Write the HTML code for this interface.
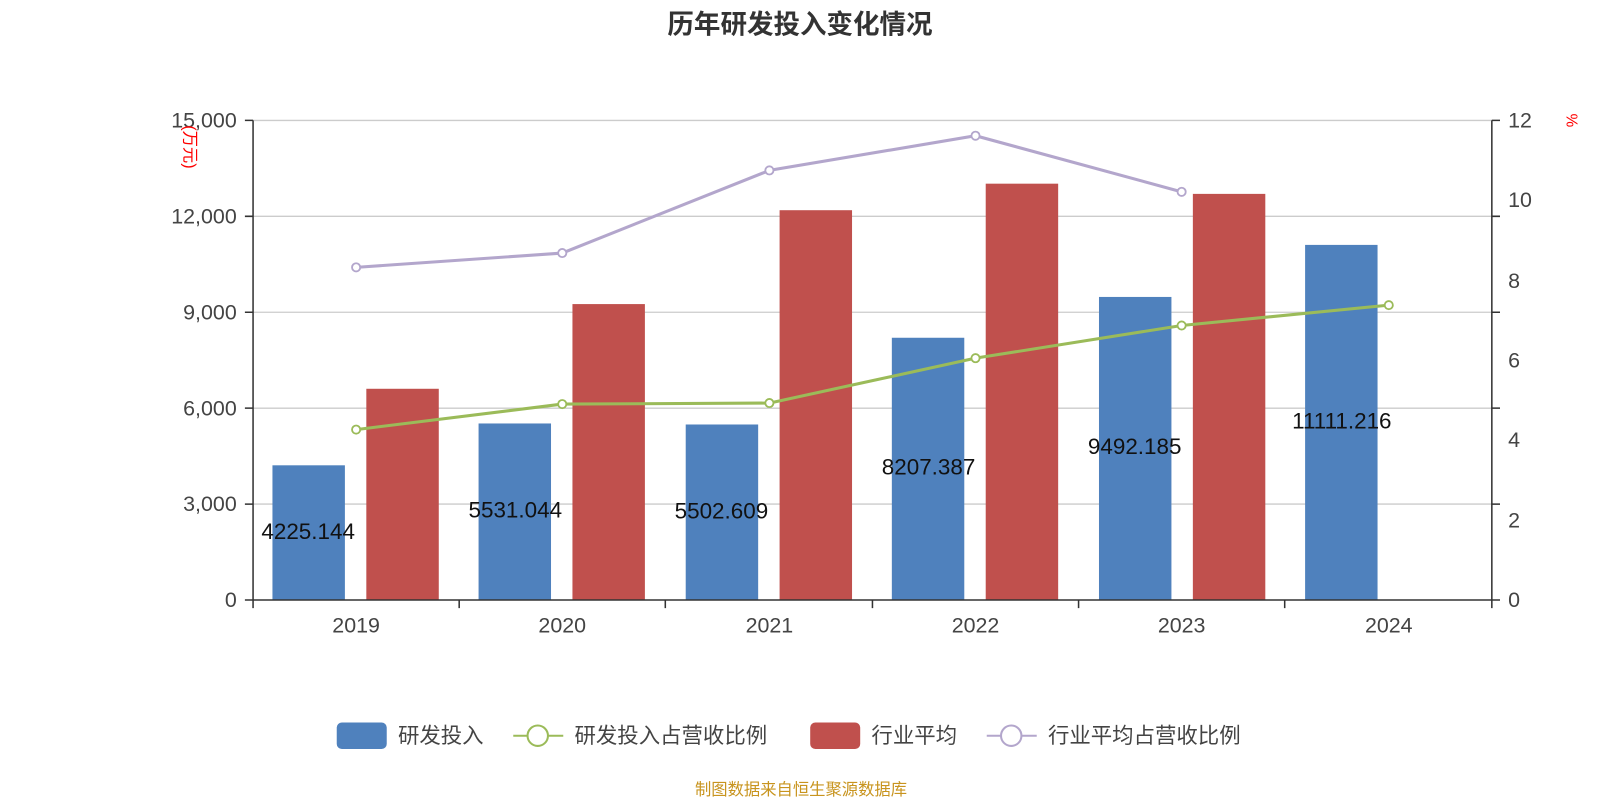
<!DOCTYPE html>
<html><head><meta charset="utf-8"><style>
body{margin:0;background:#fff}
svg{display:block}
svg text{font-family:"Liberation Sans","Noto Sans CJK SC",sans-serif}
</style></head><body>
<svg width="1600" height="800" viewBox="0 0 1568 784" xmlns="http://www.w3.org/2000/svg">
<text x="784" y="33" text-anchor="middle" font-size="26" font-weight="bold" fill="#333">历年研发投入变化情况</text>
<g stroke="#ccc" stroke-width="1.3">
<line x1="248" y1="118" x2="1462" y2="118"/>
<line x1="248" y1="212" x2="1462" y2="212"/>
<line x1="248" y1="306" x2="1462" y2="306"/>
<line x1="248" y1="400" x2="1462" y2="400"/>
<line x1="248" y1="494" x2="1462" y2="494"/>
</g>
<g fill="#4f81bd">
<rect x="267" y="456" width="71" height="132"/>
<rect x="469" y="415" width="71" height="173"/>
<rect x="672" y="416" width="71" height="172"/>
<rect x="874" y="331" width="71" height="257"/>
<rect x="1077" y="291" width="71" height="297"/>
<rect x="1279" y="240" width="71" height="348"/>
</g>
<g fill="#c0504d">
<rect x="359" y="381" width="71" height="207"/>
<rect x="561" y="298" width="71" height="290"/>
<rect x="764" y="206" width="71" height="382"/>
<rect x="966" y="180" width="71" height="408"/>
<rect x="1169" y="190" width="71" height="398"/>
</g>
<g stroke="#333" stroke-width="1.5" fill="none">
<line x1="248" y1="118" x2="248" y2="588"/>
<line x1="1462" y1="118" x2="1462" y2="588"/>
<line x1="248" y1="588" x2="1462" y2="588"/>
<path d="M240 118H248M240 212H248M240 306H248M240 400H248M240 494H248M240 588H248"/>
<path d="M1462 118H1470M1462 212H1470M1462 306H1470M1462 400H1470M1462 494H1470M1462 588H1470"/>
<path d="M248 588V596M450 588V596M652 588V596M855 588V596M1057 588V596M1259 588V596M1462 588V596"/>
</g>
<g font-size="21" fill="#444" text-anchor="end">
<text x="232" y="125">15,000</text><text x="232" y="219">12,000</text><text x="232" y="313">9,000</text>
<text x="232" y="407">6,000</text><text x="232" y="501">3,000</text><text x="232" y="595">0</text>
</g>
<g font-size="21" fill="#444" text-anchor="start">
<text x="1478" y="125">12</text><text x="1478" y="203">10</text><text x="1478" y="282">8</text>
<text x="1478" y="360">6</text><text x="1478" y="438">4</text><text x="1478" y="517">2</text><text x="1478" y="595">0</text>
</g>
<g font-size="21" fill="#444" text-anchor="middle">
<text x="349" y="620">2019</text><text x="551" y="620">2020</text><text x="754" y="620">2021</text>
<text x="956" y="620">2022</text><text x="1158" y="620">2023</text><text x="1361" y="620">2024</text>
</g>
<text transform="translate(181,144) rotate(90)" font-size="16" fill="red" text-anchor="middle">(万元)</text>
<text transform="translate(1535,118) rotate(90)" font-size="15" fill="red" text-anchor="middle">%</text>
<polyline points="349,262 551,248 754,167 956,133 1158,188" fill="none" stroke="#b3a6cc" stroke-width="3"/>
<g fill="#fff" stroke="#b3a6cc" stroke-width="1.8">
<circle cx="349" cy="262" r="4"/><circle cx="551" cy="248" r="4"/><circle cx="754" cy="167" r="4"/><circle cx="956" cy="133" r="4"/><circle cx="1158" cy="188" r="4"/>
</g>
<polyline points="349,421 551,396 754,395 956,351 1158,319 1361,299" fill="none" stroke="#9bbb59" stroke-width="3"/>
<g fill="#fff" stroke="#9bbb59" stroke-width="1.8">
<circle cx="349" cy="421" r="4"/><circle cx="551" cy="396" r="4"/><circle cx="754" cy="395" r="4"/><circle cx="956" cy="351" r="4"/><circle cx="1158" cy="319" r="4"/><circle cx="1361" cy="299" r="4"/>
</g>
<g font-size="22" fill="#111" text-anchor="middle">
<text x="302" y="528">4225.144</text><text x="505" y="507">5531.044</text><text x="707" y="508">5502.609</text>
<text x="910" y="465">8207.387</text><text x="1112" y="445">9492.185</text><text x="1315" y="420">11111.216</text>
</g>
<rect x="330" y="708" width="49" height="26" rx="5" fill="#4f81bd"/>
<text x="390" y="728" font-size="21" fill="#444">研发投入</text>
<line x1="503" y1="721" x2="552" y2="721" stroke="#9bbb59" stroke-width="2"/>
<circle cx="527" cy="721" r="10" fill="#fff" stroke="#9bbb59" stroke-width="2"/>
<text x="563" y="728" font-size="21" fill="#444">研发投入占营收比例</text>
<rect x="794" y="708" width="49" height="26" rx="5" fill="#c0504d"/>
<text x="854" y="728" font-size="21" fill="#444">行业平均</text>
<line x1="967" y1="721" x2="1016" y2="721" stroke="#b3a6cc" stroke-width="2"/>
<circle cx="991" cy="721" r="10" fill="#fff" stroke="#b3a6cc" stroke-width="2"/>
<text x="1027" y="728" font-size="21" fill="#444">行业平均占营收比例</text>
<text x="785" y="779" font-size="16" fill="#c8941e" text-anchor="middle">制图数据来自恒生聚源数据库</text>
</svg>
</body></html>
